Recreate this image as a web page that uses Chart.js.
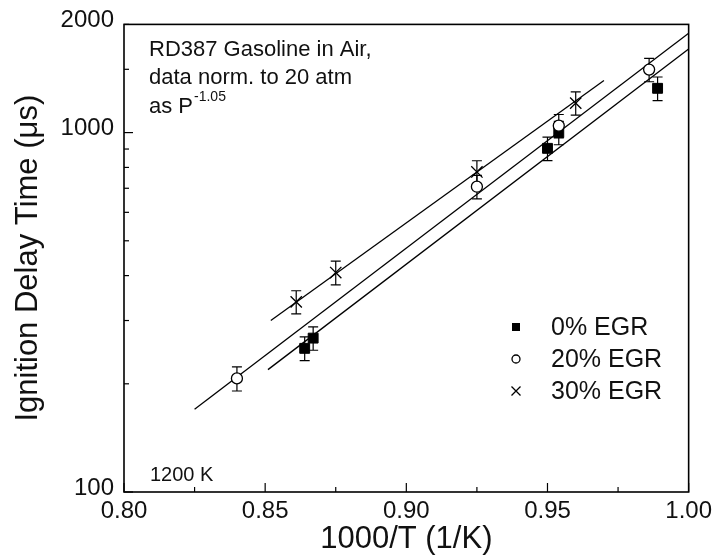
<!DOCTYPE html>
<html>
<head>
<meta charset="utf-8">
<script src="https://cdn.jsdelivr.net/npm/chart.js@4.4.1/dist/chart.umd.min.js"></script>
<style>
  html, body { margin: 0; padding: 0; background: #fff; }
  #wrap { width: 717px; height: 558px; position: relative; }
</style>
</head>
<body>
<div id="wrap"><canvas id="chart" width="717" height="558"></canvas></div>
<script>
// measured points, 1000/T vs ignition delay (us)
const egr0X = [0.864, 0.867, 0.950, 0.954, 0.989]
const egr0Y = [251, 268, 904, 1000, 1328]
const egr0Err = [19, 20, 68, 75, 100]

const egr20X = [0.840, 0.925, 0.954, 0.986]
const egr20Y = [207, 707, 1045, 1497]
const egr20Err = [16, 53, 78, 112]

const egr30X = [0.861, 0.875, 0.925, 0.960]
const egr30Y = [338, 408, 777, 1208]
const egr30Err = [25, 31, 58, 90]

// fit line end points
const fit0X = [0.851, 1.0]
const fit0Y = [219, 1709]
const fit20X = [0.825, 1.0]
const fit20Y = [170, 1891]
const fit30X = [0.852, 0.970]
const fit30Y = [300, 1397]

const yLabels = [100, 1000, 2000]
const legendLabels = ["0% EGR", "20% EGR", "30% EGR"]

const FONT = "'Liberation Sans', Arial, sans-serif"

const toPts = (xs, ys) => xs.map((x, i) => ({ x: x, y: ys[i] }))

function drawSymbol(ctx, kind, x, y, s) {
  ctx.save()
  ctx.strokeStyle = "#000"
  ctx.fillStyle = "#000"
  ctx.lineWidth = 1.3
  if (kind === "rect") {
    ctx.fillRect(x - s, y - s, 2 * s, 2 * s)
  } else if (kind === "circle") {
    ctx.beginPath()
    ctx.arc(x, y, s, 0, Math.PI * 2)
    ctx.fillStyle = "#fff"
    ctx.fill()
    ctx.stroke()
  } else {
    ctx.beginPath()
    ctx.moveTo(x - s, y - s); ctx.lineTo(x + s, y + s)
    ctx.moveTo(x - s, y + s); ctx.lineTo(x + s, y - s)
    ctx.stroke()
  }
  ctx.restore()
}

const decor = {
  id: "decor",
  beforeDatasetsDraw(chart) {
    const ctx = chart.ctx
    const xs = chart.scales.x, ys = chart.scales.y
    ctx.save()
    ctx.strokeStyle = "#000"
    ctx.lineWidth = 1.2
    chart.data.datasets.forEach(ds => {
      if (!ds.err) return
      ds.data.forEach((p, i) => {
        const px = xs.getPixelForValue(p.x)
        const top = ys.getPixelForValue(p.y + ds.err[i])
        const bot = ys.getPixelForValue(p.y - ds.err[i])
        ctx.beginPath()
        ctx.moveTo(px, top); ctx.lineTo(px, bot)
        ctx.moveTo(px - 5, top); ctx.lineTo(px + 5, top)
        ctx.moveTo(px - 5, bot); ctx.lineTo(px + 5, bot)
        ctx.stroke()
      })
    })
    ctx.restore()
  },
  afterDraw(chart) {
    const ctx = chart.ctx
    const a = chart.chartArea
    const xs = chart.scales.x, ys = chart.scales.y

    ctx.save()
    ctx.strokeStyle = "#000"
    ctx.lineWidth = 1.2
    // inward ticks
    xs.ticks.forEach(t => {
      const px = xs.getPixelForValue(t.value)
      const major = Math.abs(Math.round(t.value * 20) - t.value * 20) < 1e-6
      ctx.beginPath()
      ctx.moveTo(px, a.bottom); ctx.lineTo(px, a.bottom - (major ? 9 : 5))
      ctx.stroke()
    })
    ys.ticks.forEach(t => {
      const py = ys.getPixelForValue(t.value)
      const major = t.value === 100 || t.value === 1000
      ctx.beginPath()
      ctx.moveTo(a.left, py); ctx.lineTo(a.left + (major ? 9 : 5), py)
      ctx.stroke()
    })
    // frame
    ctx.lineWidth = 1.6
    ctx.strokeRect(a.left, a.top, a.right - a.left, a.bottom - a.top)

    // annotation
    ctx.fillStyle = "#111"
    ctx.textBaseline = "alphabetic"
    ctx.font = "22px " + FONT
    ctx.fillText("RD387 Gasoline in Air,", 149, 56)
    ctx.fillText("data norm. to 20 atm", 149, 84)
    ctx.fillText("as P", 149, 113)
    const w = ctx.measureText("as P").width
    ctx.font = "14px " + FONT
    ctx.fillText("-1.05", 149 + w + 1, 101)
    ctx.font = "20px " + FONT
    ctx.fillText("1200 K", 150, 481)

    // legend
    const kinds = ["rect", "circle", "cross"]
    const sizes = [4, 4, 4.5]
    ctx.font = "25px " + FONT
    ctx.textBaseline = "middle"
    legendLabels.forEach((lab, i) => {
      const yy = 327 + i * 32
      drawSymbol(ctx, kinds[i], 516, yy, sizes[i])
      ctx.fillStyle = "#111"
      ctx.fillText(lab, 551, yy + 1)
    })
    ctx.restore()
  }
}

new Chart(document.getElementById("chart"), {
  type: "scatter",
  data: {
    datasets: [
      {
        label: legendLabels[0], data: toPts(egr0X, egr0Y), err: egr0Err, order: 1,
        pointStyle: "rect", pointRadius: 7, pointHoverRadius: 7,
        backgroundColor: "#000", borderColor: "#000", borderWidth: 1
      },
      {
        label: legendLabels[1], data: toPts(egr20X, egr20Y), err: egr20Err, order: 0,
        pointStyle: "circle", pointRadius: 5.5, pointHoverRadius: 5.5,
        backgroundColor: "#fff", borderColor: "#000", borderWidth: 1.3
      },
      {
        label: legendLabels[2], data: toPts(egr30X, egr30Y), err: egr30Err, order: 1,
        pointStyle: "crossRot", pointRadius: 8, pointHoverRadius: 8,
        backgroundColor: "#000", borderColor: "#000", borderWidth: 1.3
      },
      { data: toPts(fit0X, fit0Y), order: 2, showLine: true, pointRadius: 0, borderColor: "#000", borderWidth: 1.3 },
      { data: toPts(fit20X, fit20Y), order: 2, showLine: true, pointRadius: 0, borderColor: "#000", borderWidth: 1.3 },
      { data: toPts(fit30X, fit30Y), order: 2, showLine: true, pointRadius: 0, borderColor: "#000", borderWidth: 1.3 }
    ]
  },
  options: {
    responsive: false,
    animation: false,
    layout: { padding: { left: 0, right: 28, top: 17, bottom: 0 } },
    plugins: { legend: { display: false }, tooltip: { enabled: false } },
    scales: {
      x: {
        type: "linear", min: 0.8, max: 1.0,
        afterFit(s) { s.height = 66 },
        grid: { display: false, drawTicks: false },
        border: { display: false },
        ticks: {
          stepSize: 0.025, autoSkip: false, padding: 5, color: "#111",
          font: { family: FONT, size: 24 },
          callback: v => (Math.abs(Math.round(v * 20) - v * 20) < 1e-6 ? v.toFixed(2) : "")
        },
        title: {
          display: true, text: "1000/T (1/K)", color: "#111",
          font: { family: FONT, size: 31 }, padding: { top: 0, bottom: 0 }
        }
      },
      y: {
        type: "logarithmic", min: 100, max: 2000,
        afterFit(s) { s.width = 124 },
        grid: { display: false, drawTicks: false },
        border: { display: false },
        ticks: {
          autoSkip: false, padding: 10, color: "#111", labelOffset: -4,
          font: { family: FONT, size: 24 },
          callback: v => (yLabels.includes(v) ? String(v) : "")
        },
        title: {
          display: true, text: "Ignition Delay Time (\u03bcs)", color: "#111",
          font: { family: FONT, size: 31 }, padding: { top: 10, bottom: 0 }
        }
      }
    }
  },
  plugins: [decor]
})
</script>
</body>
</html>
